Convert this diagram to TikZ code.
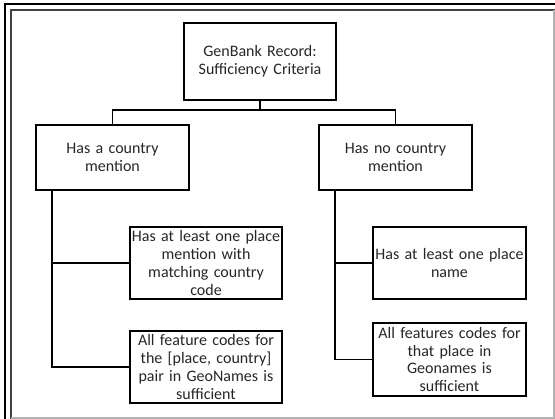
\documentclass[tikz,border=0pt]{standalone}
\usepackage{fontspec}
\setmainfont{Carlito}
\begin{document}
\begin{tikzpicture}[x=1pt,y=-1pt,
  box/.style={draw=black,line width=1.6pt,rectangle,inner sep=1pt,align=center,
    font=\fontsize{16}{17.7}\selectfont,text=black!85},
  conn/.style={draw=black,line width=1.8pt}]
\useasboundingbox (0,0) rectangle (555,419);
% frame
\draw[black,line width=2.2pt] (5,419) -- (5,4) -- (555,4);
\draw[black!75,line width=2pt] (11,419) -- (11,10) -- (555,10);
\draw[black!30,line width=1.2pt] (554,10) -- (554,418) -- (11,418);
% nodes
\node[box,minimum width=152,minimum height=77,text width=148] (top) at (260,61.5) {GenBank Record:\\Sufficiency Criteria};
\node[box,minimum width=153,minimum height=65,text width=149] (L) at (112.5,157.5) {Has a country\\mention\\[6pt]};
\node[box,minimum width=153,minimum height=65,text width=149] (R) at (395.5,157.5) {Has no country\\mention\\[6pt]};
\node[box,minimum width=152,minimum height=72,text width=150] (L1) at (206,263) {Has at least one place\\mention with\\matching country\\code};
\node[box,minimum width=152,minimum height=72,text width=150] (L2) at (206,367) {All feature codes for\\the [place, country]\\pair in GeoNames is\\sufficient};
\node[box,minimum width=153,minimum height=72,text width=151] (R1) at (449.5,263) {Has at least one place\\name};
\node[box,minimum width=153,minimum height=73,text width=151] (R2) at (449.5,359.5) {All features codes for\\that place in\\Geonames is\\sufficient};
% connectors
\coordinate (hb) at (260,110);
\coordinate (lv) at (52,190);
\coordinate (rv) at (335,190);
\draw[conn] (top.south) -- (hb);
\draw[conn] (hb) -| (L.north);
\draw[conn] (hb) -| (R.north);
\draw[conn] (lv) |- (L1.west);
\draw[conn] (lv) |- (L2.west);
\draw[conn] (rv) |- (R1.west);
\draw[conn] (rv) |- (R2.west);
\end{tikzpicture}
\end{document}
